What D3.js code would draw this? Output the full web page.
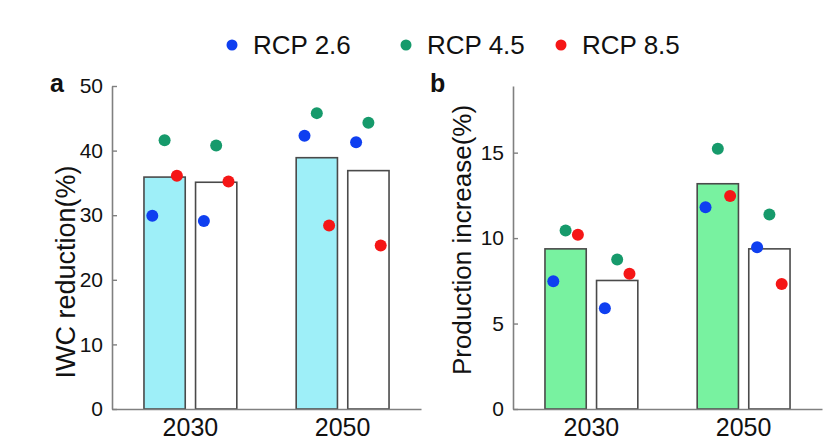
<!DOCTYPE html>
<html>
<head>
<meta charset="utf-8">
<script src="https://cdn.jsdelivr.net/npm/d3@7"></script>
<style>
  body { margin: 0; background: #fff; }
  svg { font-family: "Liberation Sans", Arial, sans-serif; }
</style>
</head>
<body>
<div id="chart"></div>
<script>
// values: [year][filled bar, open bar]
var years = ["2030", "2050"];
var scenarios = ["RCP 2.6", "RCP 4.5", "RCP 8.5"];
var scenarioColors = ["#0f3ff0", "#169a6b", "#f51616"];

var iwcBars = [[35.9, 35.1], [38.9, 36.9]];
var iwcRcp26 = [[29.9, 29.1], [42.3, 41.3]];
var iwcRcp45 = [[41.6, 40.8], [45.8, 44.3]];
var iwcRcp85 = [[36.1, 35.2], [28.4, 25.3]];

var prodBars = [[9.37, 7.52], [13.18, 9.37]];
var prodRcp26 = [[7.48, 5.9], [11.81, 9.47]];
var prodRcp45 = [[10.45, 8.75], [15.23, 11.38]];
var prodRcp85 = [[10.19, 7.92], [12.46, 7.32]];

var iwcTicks = [0, 10, 20, 30, 40, 50];
var prodTicks = [0, 5, 10, 15];

var width = 836, height = 442;
var svg = d3.select("#chart").append("svg")
  .attr("width", width)
  .attr("height", height);

function panel (opts) {
  var x0 = opts.left, x1 = opts.right, top = 86, bottom = 409;
  var g = svg.append("g");

  var xg = d3.scaleBand().domain(years).range([x0, x1])
    .paddingInner(0.39).paddingOuter(0.21);
  var xs = d3.scaleBand().domain([0, 1]).range([0, xg.bandwidth()]).paddingInner(0.2);
  var xd = d3.scalePoint().domain(scenarios).range([-12.3, 12.3]);
  var y = d3.scaleLinear().domain(opts.domain).range([bottom, top]);

  var rows = [];
  years.forEach(function (yr, i) {
    [0, 1].forEach(function (k) {
      rows.push({
        year: yr, k: k, value: opts.bars[i][k],
        dots: [opts.s26[i][k], opts.s45[i][k], opts.s85[i][k]]
      });
    });
  });

  g.selectAll(".bar")
    .data(rows)
    .enter().append("rect")
    .attr("class", "bar")
    .attr("x", function (d) { return xg(d.year) + xs(d.k); })
    .attr("y", function (d) { return y(d.value); })
    .attr("width", xs.bandwidth())
    .attr("height", function (d) { return y(0) - y(d.value); })
    .style("fill", function (d) { return d.k === 0 ? opts.fill : "#fff"; })
    .style("stroke", "#4a4a4a")
    .style("stroke-width", 1.6);

  rows.forEach(function (r) {
    var cx = xg(r.year) + xs(r.k) + xs.bandwidth() / 2;
    g.selectAll(null)
      .data(r.dots)
      .enter().append("circle")
      .attr("cx", function (d, j) { return cx + xd(scenarios[j]); })
      .attr("cy", function (d) { return y(d); })
      .attr("r", 6)
      .style("fill", function (d, j) { return scenarioColors[j]; });
  });

  var ya = g.append("g")
    .attr("transform", "translate(" + x0 + ",0)")
    .call(d3.axisLeft(y).tickValues(opts.ticks).tickSizeInner(-5).tickSizeOuter(0).tickPadding(9));
  ya.selectAll("text").style("font-size", "21px").style("fill", "#111");

  var xa = g.append("g")
    .attr("transform", "translate(0," + bottom + ")")
    .call(d3.axisBottom(xg).tickSize(0).tickPadding(9));
  xa.selectAll("text").style("font-size", "25px").style("fill", "#111");

  g.selectAll(".domain").style("stroke", "#808080").style("stroke-width", 1.6);
  g.selectAll(".tick line").style("stroke", "#808080").style("stroke-width", 1.4);

  g.append("text")
    .attr("transform", "translate(" + opts.labelX + "," + opts.labelY + ") rotate(-90)")
    .attr("text-anchor", "middle")
    .style("font-size", opts.labelSize)
    .style("fill", "#111")
    .text(opts.label);

  g.append("text")
    .attr("x", opts.tagX)
    .attr("y", 92)
    .style("font-size", "25px")
    .style("font-weight", "bold")
    .style("fill", "#111")
    .text(opts.tag);
}

panel({
  left: 112, right: 421, domain: [0, 50], ticks: iwcTicks,
  bars: iwcBars, s26: iwcRcp26, s45: iwcRcp45, s85: iwcRcp85,
  fill: "#9eeff8", label: "IWC reduction(%)", labelX: 75, labelY: 272,
  labelSize: "27px", tag: "a", tagX: 50
});

panel({
  left: 513, right: 822, domain: [0, 18.9], ticks: prodTicks,
  bars: prodBars, s26: prodRcp26, s45: prodRcp45, s85: prodRcp85,
  fill: "#78f2a0", label: "Production increase(%)", labelX: 471, labelY: 240,
  labelSize: "26px", tag: "b", tagX: 430
});

// legend
var legendX = [232, 406, 561];
var legend = svg.append("g");
scenarios.forEach(function (s, i) {
  legend.append("circle")
    .attr("cx", legendX[i]).attr("cy", 45).attr("r", 5.5)
    .style("fill", scenarioColors[i]);
  legend.append("text")
    .attr("x", legendX[i] + 21).attr("y", 54)
    .style("font-size", "26px")
    .style("fill", "#111")
    .text(s);
});
</script>
</body>
</html>
